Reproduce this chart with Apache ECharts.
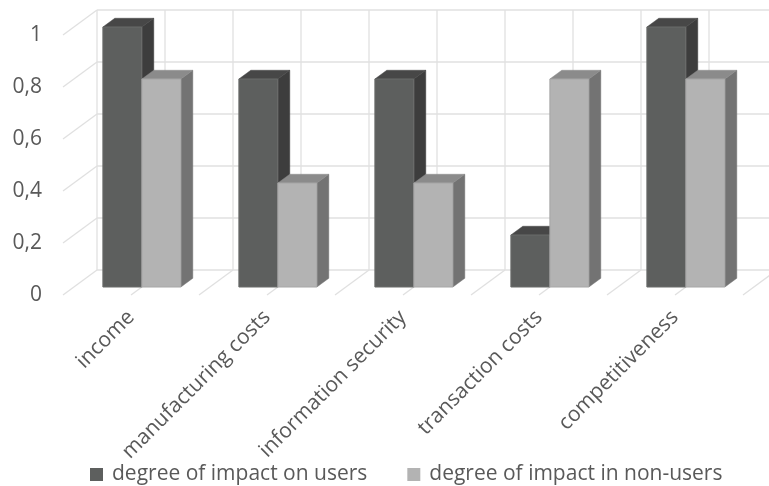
<!DOCTYPE html>
<html>
<head>
<meta charset="utf-8">
<script src="https://cdn.jsdelivr.net/npm/echarts@6/dist/echarts.min.js"></script>
<style>
  html, body { margin: 0; padding: 0; background: #fff; }
  #chart { width: 769px; height: 486px; }
</style>
</head>
<body>
<div id="chart"></div>
<script>
// Categories and series values
var categories = ['income', 'manufacturing costs', 'information security', 'transaction costs', 'competitiveness'];
var usersImpact = [1, 0.8, 0.8, 0.2, 1];
var nonUsersImpact = [0.8, 0.4, 0.4, 0.8, 0.8];
var valueTicks = [0, 0.2, 0.4, 0.6, 0.8, 1];
var seriesNames = ['degree of impact on users', 'degree of impact in non-users'];

// Oblique projection of the depth axis (pixels for full depth)
var DEPTH = [34, -25];
var BAR_DEPTH = [0.32, 0.67];   // front/back of each column as a fraction of depth
var GAP_FRAC = 0.2132;          // space before the first column inside a category slot
var BAR_FRAC = 0.2868;          // width of one column relative to the slot

var palette = [
  { front: '#5d5f5e', top: '#474747', side: '#3d3d3d', edge: '#6a6c6b' },
  { front: '#b3b3b3', top: '#8b8b8b', side: '#737373', edge: '#a6a6a6' }
];
var TEXT = '#595959';
var GRID = '#e0e0e0';
var FONT = 'Open Sans';
var FONT_SIZE = 21;

function shift(p, f) { return [p[0] + DEPTH[0] * f, p[1] + DEPTH[1] * f]; }

// Back wall, side wall and floor lines of the 3D box
function renderWalls(params, api) {
  var origin = api.coord([0, 0]);
  var bw = api.size([1, 0])[0];
  var x0 = origin[0] - bw / 2;
  var x1 = x0 + bw * categories.length;
  var yBase = origin[1];
  var yTop = api.coord([0, valueTicks[valueTicks.length - 1]])[1];
  var children = [];
  var style = { stroke: GRID, lineWidth: 1.3 };
  valueTicks.forEach(function (v) {
    var y = api.coord([0, v])[1];
    // back wall horizontal
    children.push({ type: 'line', shape: { x1: x0 + DEPTH[0], y1: y + DEPTH[1], x2: x1 + DEPTH[0], y2: y + DEPTH[1] }, style: style });
    // side wall diagonal
    children.push({ type: 'line', shape: { x1: x0, y1: y, x2: x0 + DEPTH[0], y2: y + DEPTH[1] }, style: style });
  });
  for (var k = 0; k <= categories.length * 2; k++) {
    var x = x0 + k * bw / 2;
    // back wall vertical
    children.push({ type: 'line', shape: { x1: x + DEPTH[0], y1: yBase + DEPTH[1], x2: x + DEPTH[0], y2: yTop + DEPTH[1] }, style: style });
    // floor diagonal
    if (k > 0) {
      children.push({ type: 'line', shape: { x1: x, y1: yBase, x2: x + DEPTH[0], y2: yBase + DEPTH[1] }, style: style });
    }
  }
  return { type: 'group', children: children, silent: true };
}

function makeColumnRenderer(si) {
  return function (params, api) {
    var cat = api.value(0);
    var val = api.value(1);
    var c = palette[si];
    var bw = api.size([1, 0])[0];
    var base = api.coord([cat, 0]);
    var top = api.coord([cat, val]);
    var left = base[0] - bw / 2 + bw * GAP_FRAC + si * bw * BAR_FRAC;
    var right = left + bw * BAR_FRAC;
    var fa = BAR_DEPTH[0], fb = BAR_DEPTH[1];
    var bl = shift([left, base[1]], fa), br = shift([right, base[1]], fa);
    var tl = shift([left, top[1]], fa), tr = shift([right, top[1]], fa);
    var tlb = shift([left, top[1]], fb), trb = shift([right, top[1]], fb);
    var brb = shift([right, base[1]], fb);
    return {
      type: 'group',
      children: [
        { type: 'polygon', shape: { points: [br, brb, trb, tr] }, style: { fill: c.side, stroke: c.side, lineWidth: 0.5 } },
        { type: 'polygon', shape: { points: [tl, tr, trb, tlb] }, style: { fill: c.top, stroke: c.top, lineWidth: 0.5 } },
        { type: 'polygon', shape: { points: [bl, br, tr, tl] }, style: { fill: c.front, stroke: c.edge, lineWidth: 1 } }
      ]
    };
  };
}

function toPairs(arr) { return arr.map(function (v, i) { return [i, v]; }); }

var chart = echarts.init(document.getElementById('chart'), null, { renderer: 'canvas' });
chart.setOption({
  backgroundColor: '#ffffff',
  animation: false,
  textStyle: { fontFamily: FONT },
  grid: { left: 63, right: 26, top: 35, bottom: 191, containLabel: false },
  legend: {
    left: 85, top: 459,
    itemWidth: 13, itemHeight: 13, itemGap: 40,
    icon: 'rect',
    textStyle: { color: TEXT, fontSize: FONT_SIZE, fontFamily: FONT, padding: [0, 0, 0, 4] },
    data: seriesNames
  },
  xAxis: {
    type: 'category',
    data: categories,
    boundaryGap: true,
    axisLine: { show: false },
    axisTick: { show: false },
    splitLine: { show: false },
    axisLabel: { rotate: 45, margin: 19, color: TEXT, fontSize: FONT_SIZE, fontFamily: FONT, interval: 0 }
  },
  yAxis: {
    type: 'value',
    min: 0, max: 1, interval: 0.2,
    axisLine: { show: false },
    axisTick: { show: false },
    splitLine: { show: false },
    axisLabel: {
      margin: 21, color: TEXT, fontSize: FONT_SIZE, fontFamily: FONT,
      formatter: function (v) { return String(Math.round(v * 10) / 10).replace('.', ','); }
    }
  },
  series: [
    { type: 'custom', name: 'walls', data: [[0, 0]], renderItem: renderWalls, clip: false, silent: true, z: 1 },
    { type: 'custom', name: seriesNames[0], data: toPairs(usersImpact), renderItem: makeColumnRenderer(0), itemStyle: { color: palette[0].front }, clip: false, z: 2 },
    { type: 'custom', name: seriesNames[1], data: toPairs(nonUsersImpact), renderItem: makeColumnRenderer(1), itemStyle: { color: palette[1].front }, clip: false, z: 3 }
  ]
});
</script>
</body>
</html>
